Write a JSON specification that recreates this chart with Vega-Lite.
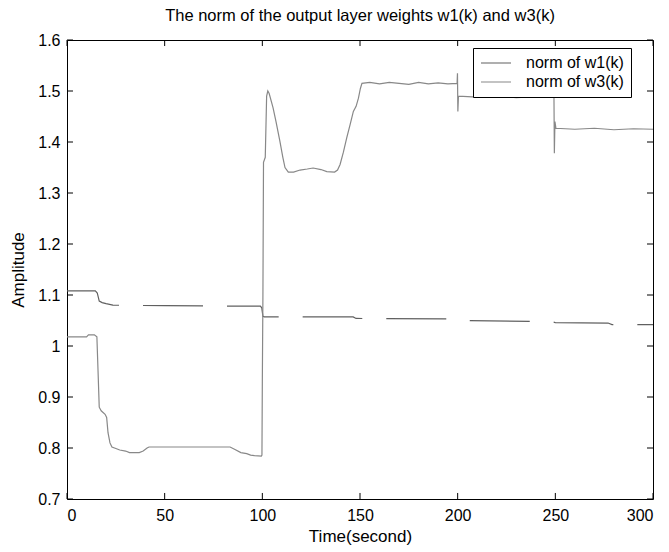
{
  "$schema": "https://vega.github.io/schema/vega-lite/v6.json",
  "width": 586,
  "height": 459,
  "autosize": "none",
  "padding": {"left": 67, "top": 40, "right": 16, "bottom": 53},
  "background": "white",
  "title": {"text": "The norm of the output layer weights w1(k) and w3(k)", "font": "Liberation Sans", "fontSize": 16.5, "fontWeight": "normal", "color": "black", "anchor": "middle", "offset": 8},
  "config": {
    "view": {"stroke": "black", "strokeWidth": 1},
    "axis": {"grid": false, "domain": false, "ticks": false, "labelColor": "black", "titleColor": "black", "labelFont": "Liberation Sans", "titleFont": "Liberation Sans", "labelFontSize": 16, "titleFontSize": 17, "titleFontWeight": "normal"}
  },
  "datasets": {
    "xt": [{"t": 0}, {"t": 50}, {"t": 100}, {"t": 150}, {"t": 200}, {"t": 250}, {"t": 300}],
    "yt": [{"v": 0.7}, {"v": 0.8}, {"v": 0.9}, {"v": 1.0}, {"v": 1.1}, {"v": 1.2}, {"v": 1.3}, {"v": 1.4}, {"v": 1.5}, {"v": 1.6}],
    "w1": [
      {"t": 0, "v": 1.108}, {"t": 14.5, "v": 1.108}, {"t": 15.5, "v": 1.104}, {"t": 16.5, "v": 1.088}, {"t": 18, "v": 1.085}, {"t": 20, "v": 1.083}, {"t": 23.5, "v": 1.08},
      {"t": 50, "v": 1.079}, {"t": 99, "v": 1.078}, {"t": 99.7, "v": 1.075}, {"t": 100.3, "v": 1.058}, {"t": 101, "v": 1.057}, {"t": 146.5, "v": 1.057}, {"t": 148, "v": 1.054},
      {"t": 199, "v": 1.053}, {"t": 200, "v": 1.05}, {"t": 248, "v": 1.048}, {"t": 250, "v": 1.046}, {"t": 277, "v": 1.045}, {"t": 279, "v": 1.042}, {"t": 300, "v": 1.042}
    ],
    "w3": [
      {"t": 0, "v": 1.018}, {"t": 10, "v": 1.018}, {"t": 11, "v": 1.022}, {"t": 14, "v": 1.022}, {"t": 15.3, "v": 1.018}, {"t": 15.9, "v": 0.95}, {"t": 16.5, "v": 0.88},
      {"t": 17.5, "v": 0.873}, {"t": 19.5, "v": 0.866}, {"t": 20.3, "v": 0.86}, {"t": 21, "v": 0.83}, {"t": 22, "v": 0.81}, {"t": 23, "v": 0.802}, {"t": 25, "v": 0.799},
      {"t": 27, "v": 0.796}, {"t": 30, "v": 0.794}, {"t": 32, "v": 0.791}, {"t": 37, "v": 0.791}, {"t": 39, "v": 0.794}, {"t": 41, "v": 0.8}, {"t": 42, "v": 0.802},
      {"t": 83.5, "v": 0.802}, {"t": 86, "v": 0.797}, {"t": 89, "v": 0.791}, {"t": 92, "v": 0.789}, {"t": 94, "v": 0.786}, {"t": 96, "v": 0.785}, {"t": 99.5, "v": 0.784},
      {"t": 99.8, "v": 0.786}, {"t": 100, "v": 0.93}, {"t": 100.3, "v": 1.1}, {"t": 100.6, "v": 1.36}, {"t": 101.5, "v": 1.37}, {"t": 102.2, "v": 1.49}, {"t": 102.8, "v": 1.5},
      {"t": 103.5, "v": 1.495}, {"t": 105.5, "v": 1.467}, {"t": 107, "v": 1.44}, {"t": 109, "v": 1.401}, {"t": 110.5, "v": 1.37}, {"t": 111.6, "v": 1.35}, {"t": 113.3, "v": 1.341},
      {"t": 116, "v": 1.341}, {"t": 119.3, "v": 1.345}, {"t": 123, "v": 1.347}, {"t": 126, "v": 1.349}, {"t": 130, "v": 1.346}, {"t": 133, "v": 1.342}, {"t": 137, "v": 1.341},
      {"t": 138.5, "v": 1.345}, {"t": 139.8, "v": 1.356}, {"t": 141.5, "v": 1.38}, {"t": 143.2, "v": 1.408}, {"t": 145, "v": 1.435}, {"t": 146.6, "v": 1.46}, {"t": 148, "v": 1.47},
      {"t": 149.2, "v": 1.486}, {"t": 150.2, "v": 1.505}, {"t": 151, "v": 1.515}, {"t": 155, "v": 1.517}, {"t": 160, "v": 1.514}, {"t": 165, "v": 1.517}, {"t": 170, "v": 1.515},
      {"t": 175, "v": 1.513}, {"t": 180, "v": 1.517}, {"t": 185, "v": 1.514}, {"t": 190, "v": 1.516}, {"t": 195, "v": 1.514}, {"t": 199.7, "v": 1.515}, {"t": 199.9, "v": 1.535},
      {"t": 200.1, "v": 1.46}, {"t": 200.4, "v": 1.49}, {"t": 210, "v": 1.488}, {"t": 220, "v": 1.49}, {"t": 230, "v": 1.487}, {"t": 240, "v": 1.489}, {"t": 249.3, "v": 1.488},
      {"t": 249.5, "v": 1.378}, {"t": 249.8, "v": 1.44}, {"t": 250.3, "v": 1.427}, {"t": 260, "v": 1.425}, {"t": 270, "v": 1.427}, {"t": 280, "v": 1.424}, {"t": 290, "v": 1.426}, {"t": 300, "v": 1.425}
    ]
  },
  "layer": [
    {
      "data": {"name": "w1"},
      "mark": {"type": "line", "strokeDash": [60, 24], "strokeWidth": 1.2},
      "encoding": {
        "x": {"field": "t", "type": "quantitative", "scale": {"domain": [0, 300], "nice": false}, "axis": {"orient": "bottom", "values": [0, 50, 100, 150, 200, 250, 300], "labelPadding": 8, "title": "Time(second)", "titlePadding": 5}},
        "y": {"field": "v", "type": "quantitative", "scale": {"domain": [0.7, 1.6], "nice": false, "zero": false}, "axis": {"orient": "left", "values": [0.7, 0.8, 0.9, 1, 1.1, 1.2, 1.3, 1.4, 1.5, 1.6], "format": "~g", "labelPadding": 7, "title": "Amplitude", "titlePadding": 10}},
        "color": {"datum": "norm of w1(k)", "type": "nominal", "scale": {"domain": ["norm of w1(k)", "norm of w3(k)"], "range": ["#606060", "#888888"]},
          "legend": {"title": null, "orient": "none", "legendX": 406, "legendY": 8, "symbolType": "M-3,0L3,0", "symbolSize": 100, "symbolStrokeWidth": 1.2, "symbolOffset": 8, "labelFont": "Liberation Sans", "labelFontSize": 16, "labelColor": "black", "labelOffset": 22, "strokeColor": "black", "padding": 7, "rowPadding": 3, "fillColor": "white",
            "encode": {"symbols": {"update": {"strokeDash": {"value": [1, 0]}}}}}}
      }
    },
    {
      "data": {"name": "w3"},
      "mark": {"type": "line", "strokeWidth": 1.2},
      "encoding": {
        "x": {"field": "t", "type": "quantitative"},
        "y": {"field": "v", "type": "quantitative"},
        "color": {"datum": "norm of w3(k)", "type": "nominal"}
      }
    },
    {
      "data": {"name": "xt"},
      "mark": {"type": "rule", "color": "black", "strokeWidth": 1},
      "encoding": {"x": {"field": "t", "type": "quantitative"}, "y": {"datum": 0.7}, "y2": {"datum": 0.7118}}
    },
    {
      "data": {"name": "xt"},
      "mark": {"type": "rule", "color": "black", "strokeWidth": 1},
      "encoding": {"x": {"field": "t", "type": "quantitative"}, "y": {"datum": 1.6}, "y2": {"datum": 1.5882}}
    },
    {
      "data": {"name": "yt"},
      "mark": {"type": "rule", "color": "black", "strokeWidth": 1},
      "encoding": {"y": {"field": "v", "type": "quantitative"}, "x": {"datum": 0}, "x2": {"datum": 3.07}}
    },
    {
      "data": {"name": "yt"},
      "mark": {"type": "rule", "color": "black", "strokeWidth": 1},
      "encoding": {"y": {"field": "v", "type": "quantitative"}, "x": {"datum": 300}, "x2": {"datum": 296.93}}
    }
  ]
}
